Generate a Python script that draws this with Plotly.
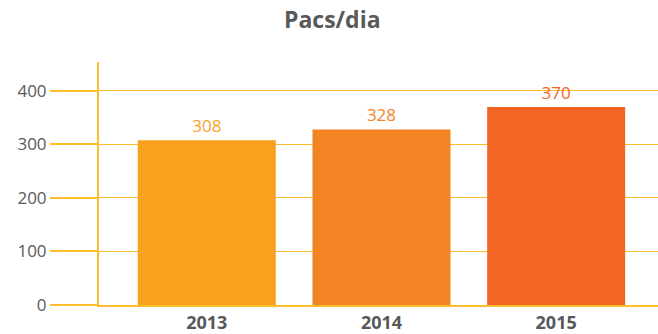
import plotly.graph_objects as go

# Daily pacs per year
years = ["2013", "2014", "2015"]
pacs_per_day = [308, 328, 370]
bar_colors = ["#F7A11F", "#F28423", "#F26524"]
y_ticks = [0, 100, 200, 300, 400]

axis_yellow = "#FDBE2C"
text_gray = "#58595B"

fig = go.Figure(
    go.Bar(
        x=years,
        y=pacs_per_day,
        marker=dict(color=bar_colors, line=dict(width=0)),
        text=[str(v) for v in pacs_per_day],
        textposition="outside",
        textfont=dict(family="Open Sans", size=17, color=bar_colors),
        cliponaxis=False,
        hoverinfo="skip",
    )
)

fig.update_layout(
    width=658,
    height=334,
    margin=dict(l=99, r=0, t=62, b=29),
    paper_bgcolor="white",
    plot_bgcolor="white",
    bargap=0.21,
    showlegend=False,
    title=dict(
        text="<b>Pacs/dia</b>",
        x=0.505,
        xanchor="center",
        y=0.965,
        yanchor="top",
        font=dict(family="Open Sans", size=23, color=text_gray),
    ),
    xaxis=dict(
        type="category",
        range=[-0.617, 2.583],
        showgrid=False,
        showline=True,
        linecolor=axis_yellow,
        linewidth=2,
        ticks="",
        tickfont=dict(family="Open Sans", size=18, color=text_gray),
        tickprefix="<b>",
        ticksuffix="</b>",
        fixedrange=True,
    ),
    yaxis=dict(
        range=[0, 454],
        tickvals=y_ticks,
        showgrid=True,
        gridcolor=axis_yellow,
        gridwidth=1,
        zeroline=False,
        showline=True,
        linecolor=axis_yellow,
        linewidth=2,
        ticks="outside",
        ticklen=47,
        tickwidth=2,
        tickcolor=axis_yellow,
        ticklabelstandoff=0,
        tickfont=dict(family="Open Sans", size=17, color=text_gray),
        fixedrange=True,
    ),
)

fig.write_html("out.html")
